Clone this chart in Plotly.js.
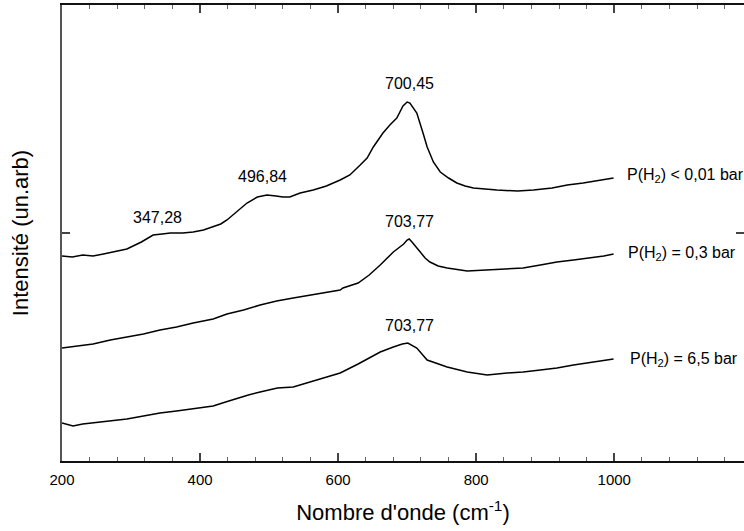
<!DOCTYPE html>
<html>
<head>
<meta charset="utf-8">
<script src="https://cdn.plot.ly/plotly-3.0.1.min.js"></script>
<style>html,body{margin:0;padding:0;background:#fff;}#chart{width:744px;height:531px;}</style>
</head>
<body>
<div id="chart"></div>
<script>
// Wavenumbers (cm-1) and intensities (arbitrary units, offset per curve)
const wTop = [200,215,230,245,260,275,294,315,332,345,357,375,390,405,419,430,439,454,468,483,497,510,520,530,545,564,583,603,617,632,642,651,665,675,685,694,700,704,707,714,723,729,738,748,760,772,784,796,813,830,860,883,910,932,955,980,999];
const iTop = [205,204,206,205,207,209,212,219,226,227,228,228,229,231,234,237,241,250,258,264,266,265,264,264,268,271,275,281,286,296,303,314,328,336,343,355,359,358,355,348,328,314,299,289,283,278,275,273,272,271,270,271,273,276,278,281,283];

const wMid = [200,220,245,270,294,318,342,366,390,419,439,463,487,511,535,560,584,603,607,629,645,661,680,695,700,703,707,711,719,726,733,745,758,787,820,845,868,893,917,941,965,985,999];
const iMid = [113,115,117,121,124,127,131,134,138,142,147,151,156,160,163,166,169,171,173,178,186,196,209,217,221,222,219,216,209,203,199,195,193,190,191,192,193,196,199,201,203,205,207];

const wBot = [200,216,230,245,270,294,318,342,366,390,419,437,454,470,487,512,535,560,584,603,629,645,661,680,693,701,707,714,729,744,758,787,816,845,868,893,917,941,970,999];
const iBot = [38,35,37,38,40,42,45,48,50,52,55,59,63,66,69,73,74,79,84,88,97,103,109,114,117,118,116,113,101,97,94,89,86,88,89,91,93,96,99,102];

const peakLabels = ["700,45","496,84","347,28","703,77","703,77"];
const peakX = [703,491,338,704,704];
const peakY = [378,285,244,240,136];

const curveLabels = ["P(H<sub>2</sub>) &lt; 0,01 bar","P(H<sub>2</sub>) = 0,3 bar","P(H<sub>2</sub>) = 6,5 bar"];
const curveLabelX = [1016,1017,1020];
const curveLabelY = [286,208,102];

const xTickVals = [200,400,600,800,1000];

const font = "Liberation Sans, Arial, sans-serif";
const lineStyle = {color:"#000", width:1.5};

const traces = [
  {x:wTop, y:iTop, mode:"lines", line:lineStyle, hoverinfo:"skip"},
  {x:wMid, y:iMid, mode:"lines", line:lineStyle, hoverinfo:"skip"},
  {x:wBot, y:iBot, mode:"lines", line:lineStyle, hoverinfo:"skip"}
];

const annotations = [];
peakLabels.forEach((t,i)=>annotations.push({x:peakX[i], y:peakY[i], text:t, showarrow:false, xanchor:"center", yanchor:"middle", font:{family:font,size:16,color:"#000"}}));
curveLabels.forEach((t,i)=>annotations.push({x:curveLabelX[i], y:curveLabelY[i], text:t, showarrow:false, xanchor:"left", yanchor:"middle", font:{family:font,size:16,color:"#000"}}));

const layout = {
  width:744, height:531,
  margin:{l:62, r:0, t:5, b:70},
  paper_bgcolor:"#fff", plot_bgcolor:"#fff",
  showlegend:false,
  font:{family:font, size:15, color:"#000"},
  xaxis:{
    range:[200,1188], tickvals:xTickVals, ticktext:xTickVals.map(String),
    ticks:"inside", ticklen:8, tickwidth:1.5, tickcolor:"#444",
    minor:{dtick:40, tick0:200, ticks:"inside", ticklen:4, tickwidth:1, tickcolor:"#666"},
    showline:true, linecolor:"#111", linewidth:2, mirror:"ticks",
    showgrid:false, zeroline:false, ticklabelstandoff:4,
    tickfont:{family:font,size:15,color:"#000"},
    title:{text:"Nombre d'onde (cm<sup>-1</sup>)", font:{family:font,size:22,color:"#000"}, standoff:18}
  },
  yaxis:{
    range:[0,456], tickvals:[228], ticktext:[""],
    ticks:"inside", ticklen:8, tickwidth:1.5, tickcolor:"#444",
    showline:true, linecolor:"#555", linewidth:2, mirror:"ticks",
    showgrid:false, zeroline:false,
    title:{text:"Intensité (un.arb)", font:{family:font,size:22,color:"#000"}, standoff:22}
  },
  annotations:annotations
};

Plotly.newPlot("chart", traces, layout, {staticPlot:true, displayModeBar:false});
</script>
</body>
</html>
